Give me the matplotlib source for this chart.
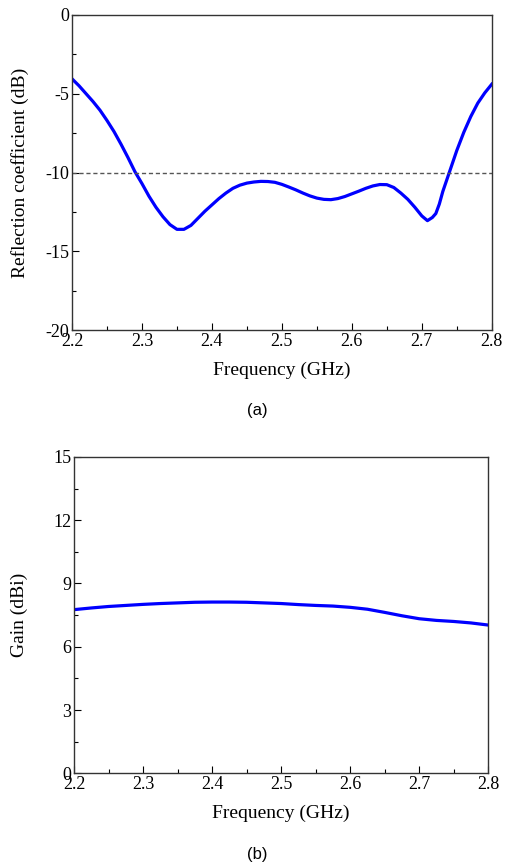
import matplotlib.pyplot as plt
from matplotlib.ticker import MultipleLocator

# Reflection coefficient (a)
freq_s11 = [2.200, 2.210, 2.220, 2.230, 2.240, 2.250, 2.260, 2.270, 2.280, 2.290,
            2.300, 2.310, 2.320, 2.330, 2.340, 2.350, 2.360, 2.370, 2.380, 2.390,
            2.400, 2.410, 2.420, 2.430, 2.440, 2.450, 2.460, 2.470, 2.480, 2.490,
            2.500, 2.510, 2.520, 2.530, 2.540, 2.550, 2.560, 2.570, 2.580, 2.590,
            2.600, 2.610, 2.620, 2.630, 2.640, 2.650, 2.660, 2.670, 2.680, 2.690,
            2.700, 2.708, 2.715, 2.720, 2.725, 2.730, 2.740, 2.750, 2.760, 2.770,
            2.780, 2.790, 2.800]
s11_db = [-4.06, -4.5, -5.0, -5.5, -6.05, -6.7, -7.4, -8.2, -9.05, -9.95,
          -10.7, -11.5, -12.2, -12.8, -13.3, -13.6, -13.6, -13.35, -12.9, -12.45,
          -12.05, -11.65, -11.3, -11.0, -10.8, -10.67, -10.6, -10.56, -10.57, -10.62,
          -10.75, -10.92, -11.1, -11.3, -11.48, -11.62, -11.7, -11.72, -11.65, -11.52,
          -11.35, -11.18, -11.0, -10.85, -10.76, -10.77, -10.95, -11.3, -11.7, -12.2,
          -12.75, -13.05, -12.85, -12.6, -12.0, -11.2, -9.9, -8.6, -7.45, -6.45,
          -5.6, -4.95, -4.4]

# Gain (b)
freq_gain = [2.200, 2.225, 2.250, 2.275, 2.300, 2.325, 2.350, 2.375, 2.400, 2.425,
             2.450, 2.475, 2.500, 2.525, 2.550, 2.575, 2.600, 2.625, 2.650, 2.675,
             2.700, 2.725, 2.750, 2.775, 2.800]
gain_dbi = [7.76, 7.84, 7.91, 7.96, 8.01, 8.05, 8.08, 8.11, 8.12, 8.12,
            8.11, 8.08, 8.05, 8.0, 7.96, 7.93, 7.87, 7.78, 7.63, 7.47,
            7.33, 7.25, 7.2, 7.13, 7.03]

x_ticks = [2.2, 2.3, 2.4, 2.5, 2.6, 2.7, 2.8]
x_labels = ['2.2', '2.3', '2.4', '2.5', '2.6', '2.7', '2.8']

serif = ['Liberation Serif', 'DejaVu Serif']
sans = ['Liberation Sans', 'DejaVu Sans']

fig = plt.figure(figsize=(5.07, 8.67), dpi=100)
ax1 = fig.add_axes([0.142, 0.619, 0.828, 0.364])
ax2 = fig.add_axes([0.146, 0.108, 0.817, 0.365])


def style(ax, ymaj, ymin_step):
    ax.xaxis.set_minor_locator(MultipleLocator(0.05))
    ax.yaxis.set_minor_locator(MultipleLocator(ymin_step))
    ax.tick_params(which='major', direction='in', length=5, width=0.8, pad=2,
                   labelsize=13)
    ax.tick_params(which='minor', direction='in', length=3, width=0.8)
    for sp in ax.spines.values():
        sp.set_color('#333333')
        sp.set_linewidth(1.0)


ax1.plot(freq_s11, s11_db, color='#0000ff', lw=2.3)
ax1.axhline(-10, color='#555555', lw=1, ls=(0, (3, 2)))
ax1.set_xlim(2.2, 2.8)
ax1.set_ylim(-20, 0)
style(ax1, 5, 2.5)
ax1.set_xticks(x_ticks)
ax1.set_xticklabels(x_labels, family=serif)
ax1.set_yticks([0, -5, -10, -15, -20])
ax1.set_yticklabels(['0', '-5', '-10', '-15', '-20'], family=serif)
ax1.set_xlabel('Frequency (GHz)', family=serif, fontsize=14, labelpad=8)
ax1.set_ylabel('Reflection coefficient (dB)', family=serif, fontsize=14, labelpad=12)

ax2.plot(freq_gain, gain_dbi, color='#0000ff', lw=2.3)
ax2.set_xlim(2.2, 2.8)
ax2.set_ylim(0, 15)
style(ax2, 3, 1.5)
ax2.set_xticks(x_ticks)
ax2.set_xticklabels(x_labels, family=serif)
ax2.set_yticks([0, 3, 6, 9, 12, 15])
ax2.set_yticklabels(['0', '3', '6', '9', '12', '15'], family=serif)
ax2.set_xlabel('Frequency (GHz)', family=serif, fontsize=14, labelpad=8)
ax2.set_ylabel('Gain (dBi)', family=serif, fontsize=14, labelpad=18)

fig.text(0.507, 1 - 411 / 867, '(a)', family=sans, fontsize=12, ha='center', va='center')
fig.text(0.507, 1 - 855 / 867, '(b)', family=sans, fontsize=12, ha='center', va='center')

fig.savefig('out.png', dpi=100)
